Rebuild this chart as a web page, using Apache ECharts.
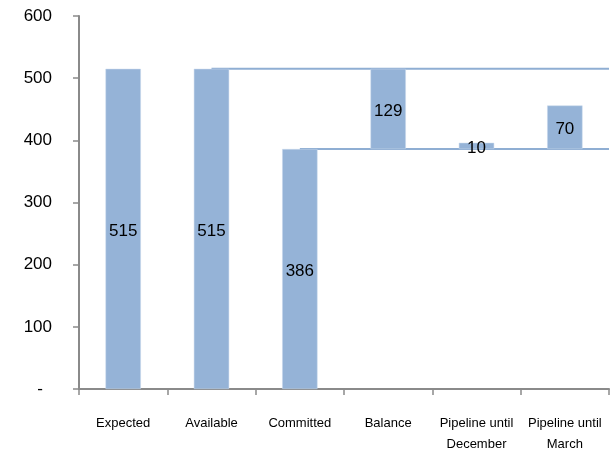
<!DOCTYPE html>
<html>
<head>
<meta charset="utf-8">
<script src="https://cdn.jsdelivr.net/npm/echarts@6/dist/echarts.min.js"></script>
<style>
  html, body { margin: 0; padding: 0; background: #fff; }
  #chart { width: 612px; height: 455px; }
</style>
</head>
<body>
<div id="chart"></div>
<script>
// Budget waterfall: totals, the balance and pipeline steps resting on the committed level
const categories = ['Expected', 'Available', 'Committed', 'Balance', 'Pipeline until\nDecember', 'Pipeline until\nMarch'];
const baseValues = [0, 0, 0, 386, 386, 386];
const stepValues = [515, 515, 386, 129, 10, 70];
const yTicks = { min: 0, max: 600, interval: 100 };
// Reference levels carried across the chart: available total and committed total
const availableLevel = 515;
const committedLevel = 386;
const availableFrom = 1.5;   // category centre of "Available"
const committedFrom = 2.5;   // category centre of "Committed"

const FONT = '"Liberation Sans Narrow", "Liberation Sans", Arial, sans-serif';
const BAR = '#95B3D7';
const AXIS = '#8a8a8a';

const chart = echarts.init(document.getElementById('chart'), null, { renderer: 'canvas' });
chart.setOption({
  animation: false,
  backgroundColor: '#ffffff',
  grid: { left: 79, right: 3, top: 16, bottom: 63, containLabel: false },
  xAxis: [
    {
      type: 'category',
      data: categories,
      axisLine: { show: true, lineStyle: { color: AXIS, width: 2 } },
      axisTick: { show: true, alignWithLabel: false, length: 6, lineStyle: { color: AXIS, width: 1.5 } },
      axisLabel: {
        interval: 0, margin: 24, color: '#000', fontFamily: FONT, fontSize: 13,
        lineHeight: 21, verticalAlign: 'top'
      },
      splitLine: { show: false }
    },
    {
      type: 'value', min: 0, max: categories.length, show: false
    }
  ],
  yAxis: {
    type: 'value',
    min: yTicks.min, max: yTicks.max, interval: yTicks.interval,
    axisLine: { show: true, lineStyle: { color: AXIS, width: 2 } },
    axisTick: { show: true, length: 6, lineStyle: { color: AXIS, width: 1.5 } },
    splitLine: { show: false },
    axisLabel: {
      margin: 27, color: '#000', fontFamily: FONT, fontSize: 17,
      formatter: v => v === 0 ? '{z|-}' : String(v),
      rich: { z: { fontFamily: FONT, fontSize: 17, color: '#000', padding: [0, 9, 0, 0] } }
    }
  },
  series: [
    {
      type: 'line', xAxisIndex: 1, z: 1, symbol: 'none', silent: true,
      data: [[availableFrom, availableLevel], [categories.length, availableLevel]],
      lineStyle: { color: '#8FAED3', width: 2 }
    },
    {
      type: 'line', xAxisIndex: 1, z: 1, symbol: 'none', silent: true,
      data: [[committedFrom, committedLevel], [categories.length, committedLevel]],
      lineStyle: { color: '#8FAED3', width: 2 }
    },
    {
      type: 'bar', stack: 'w', barWidth: '40%', z: 2,
      itemStyle: { color: 'transparent' },
      data: baseValues
    },
    {
      type: 'bar', stack: 'w', barWidth: '40%', z: 2,
      itemStyle: { color: BAR, borderColor: '#C9D9EC', borderWidth: 0.5 },
      label: {
        show: true, position: 'inside', offset: [0, 2], color: '#000',
        fontFamily: FONT, fontSize: 17,
        formatter: p => String(p.value)
      },
      data: stepValues
    }
  ]
});
</script>
</body>
</html>
